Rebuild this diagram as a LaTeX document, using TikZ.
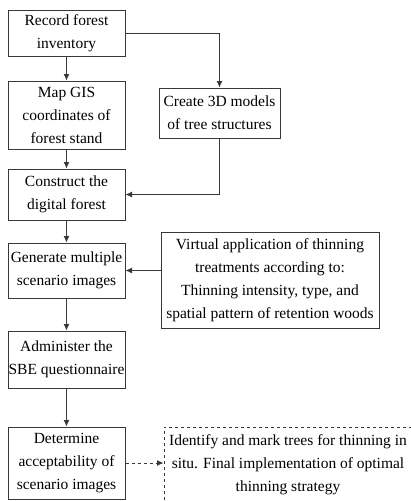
\documentclass[tikz,border=0pt]{standalone}
\usepackage{fontspec}
\setmainfont{Liberation Serif}
\usepackage{tikz}
\usetikzlibrary{arrows}
\usetikzlibrary{arrows.meta}
\usetikzlibrary{positioning}
\tikzset{>=latex}
\definecolor{lin}{gray}{0.22}
\tikzstyle{stage} = [draw = lin, line width = 1pt, align = center, inner sep = 0, font = \fontsize{15.5}{23}\selectfont]
\tikzstyle{flow} = [-{Latex[length=6.5pt, width=6pt]}, draw = lin, line width = 1pt]

\begin{document}
\begin{tikzpicture}[x=1pt, y=-1pt]
\useasboundingbox (0,0) rectangle (410,501);
\node [stage, minimum width = 117, minimum height = 46]  (rec)   at (66.5, 33)  {Record forest\\inventory};
\node [stage, minimum width = 117, minimum height = 68]  (map)   at (66.5, 115) {Map GIS\\coordinates of\\forest stand};
\node [stage, minimum width = 121, minimum height = 50]  (model) at (219.5, 113) {Create 3D models\\of tree structures};
\node [stage, minimum width = 117, minimum height = 51]  (cons)  at (66.5, 194.5) {Construct the\\digital forest};
\node [stage, minimum width = 117, minimum height = 55]  (gen)   at (66.5, 270.5) {Generate multiple\\scenario images};
\node [stage, minimum width = 218, minimum height = 96]  (virt)  at (270, 280) {Virtual application of thinning\\treatments according to:\\Thinning intensity, type, and\\spatial pattern of retention woods};
\node [stage, minimum width = 117, minimum height = 57]  (adm)   at (66.5, 359.5) {Administer the\\SBE questionnaire};
\node [stage, minimum width = 117, minimum height = 72]  (det)   at (66.5, 463) {Determine\\acceptability of\\scenario images};
\node [stage, dashed, minimum width = 248, minimum height = 76]  (ident) at (288, 465) {Identify and mark trees for thinning in\\situ. Final implementation of optimal\\thinning strategy};
\draw [flow] (rec) to (map);
\draw [flow] (rec.east) -| (model.north);
\draw [flow] (map) to (cons);
\draw [flow] (model.south) |- (cons.east);
\draw [flow] (cons) to (gen);
\draw [flow] (virt.west |- gen.east) to (gen.east);
\draw [flow] (gen) to (adm);
\draw [flow] (adm) to (det);
\draw [flow, dashed] (det.east) to (ident.west |- det.east);
\end{tikzpicture}
\end{document}
